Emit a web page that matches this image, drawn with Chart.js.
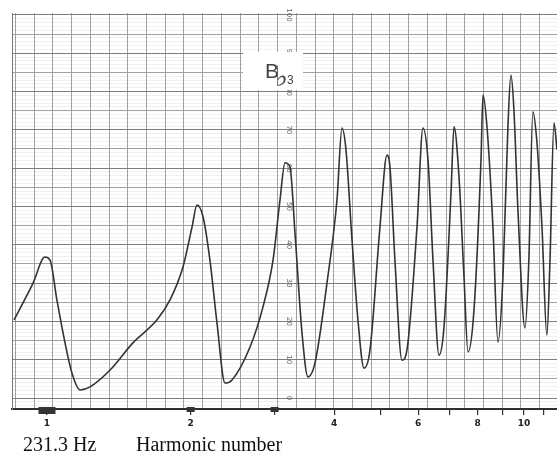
<!DOCTYPE html>
<html>
<head>
<meta charset="utf-8">
<script src="https://cdn.jsdelivr.net/npm/chart.js@4/dist/chart.umd.min.js"></script>
<style>
  html, body { margin: 0; padding: 0; background: #fff; }
  canvas { display: block; }
</style>
</head>
<body>
<canvas id="chart" width="557" height="457"></canvas>
<script>
// harmonic number (log axis) and level in dB
const harmonics = [
  0.853, 0.935, 0.990, 1.015, 1.049, 1.091, 1.128, 1.173, 1.231, 1.356,
  1.514, 1.701, 1.811, 1.928, 2.014, 2.063, 2.124, 2.196, 2.272, 2.362,
  2.443, 2.665, 2.837, 2.978, 3.080, 3.155, 3.232, 3.311, 3.425, 3.525,
  3.646, 3.864, 4.055, 4.154, 4.235, 4.360, 4.487, 4.620, 4.755, 4.990,
  5.162, 5.237, 5.364, 5.549, 5.684, 5.967, 6.142, 6.293, 6.446, 6.636,
  6.798, 7.032, 7.134, 7.309, 7.487, 7.633, 7.857, 8.127, 8.206, 8.366,
  8.610, 8.821, 9.036, 9.256, 9.391, 9.528, 9.714, 10.05, 10.24, 10.44,
  10.65, 10.91, 11.17, 11.34, 11.56, 11.73
];
const levels = [
  20.4, 30.0, 36.8, 36.0, 25.6, 14.4, 6.5, 2.1, 2.9, 7.3,
  14.4, 20.4, 25.6, 34.2, 44.6, 50.4, 47.3, 36.0, 19.6, 3.9,
  4.7, 13.3, 23.8, 36.0, 51.7, 61.4, 60.3, 43.1, 17.0, 5.5,
  9.1, 30.0, 51.7, 70.5, 64.8, 41.3, 20.4, 7.8, 12.5, 44.6,
  63.4, 60.3, 36.0, 9.9, 12.5, 44.6, 70.5, 62.1, 36.0, 11.2,
  18.5, 53.5, 70.8, 57.7, 31.6, 12.0, 23.0, 62.1, 79.1, 70.8,
  44.6, 14.6, 31.6, 70.8, 84.3, 75.2, 49.1, 18.3, 36.0, 74.7,
  66.6, 44.6, 16.4, 36.0, 71.8, 64.8
];

// harmonic ticks on the bottom rule, only some are numbered
const tickValues = [1, 2, 3, 4, 5, 6, 7, 8, 9, 10, 11];
const tickLabels = ["1", "2", "", "4", "", "6", "", "8", "", "10", ""];
// dB figures printed on the paper
const dbLabels = [100, 90, 80, 70, 60, 50, 40, 30, 20, 10, 0];
// harmonics carrying a pen mark on the rule
const markedHarmonics = [1, 2, 3];

const points = harmonics.map((h, i) => ({ x: h, y: levels[i] }));

// writing on the recorder paper: dB figures, note name, marks and captions
const paperText = {
    id: "paperText",
    beforeDatasetsDraw(chart) {
        const ctx = chart.ctx;
        const y = chart.scales.y;
        const xg = chart.scales.xg;
        const lx = xg.getPixelForValue(5.6);

        ctx.save();
        ctx.fillStyle = "#666";
        ctx.font = "7px 'DejaVu Sans'";
        ctx.textAlign = "center";
        ctx.textBaseline = "middle";
        dbLabels.forEach(v => {
            ctx.save();
            ctx.translate(lx, y.getPixelForValue(v));
            ctx.rotate(Math.PI / 2);
            ctx.fillText(String(v), 0, 0);
            ctx.restore();
        });

        // note name in its white box
        ctx.fillStyle = "#fff";
        ctx.fillRect(243, 52, 60, 38);
        ctx.fillStyle = "#444";
        ctx.textAlign = "left";
        ctx.textBaseline = "alphabetic";
        ctx.font = "21px 'Liberation Sans'";
        ctx.fillText("B", 265, 78);
        ctx.font = "28px 'DejaVu Sans', 'Noto Sans'";
        ctx.fillText("\u266D", 275, 86);
        ctx.font = "12px 'Liberation Sans'";
        ctx.fillText("3", 287, 84);
        ctx.restore();
    },
    afterDraw(chart) {
        const ctx = chart.ctx;
        const x = chart.scales.x;
        const bottom = chart.chartArea.bottom;

        ctx.save();
        ctx.fillStyle = "#333";
        markedHarmonics.forEach((h, i) => {
            const w = i === 0 ? 17 : 8;
            ctx.fillRect(x.getPixelForValue(h) - w / 2, bottom - 2, w, i === 0 ? 7 : 5);
        });

        ctx.fillStyle = "#111";
        ctx.font = "20px 'Liberation Serif'";
        ctx.textAlign = "left";
        ctx.textBaseline = "alphabetic";
        ctx.fillText("231.3 Hz", 23, 451);
        ctx.fillText("Harmonic number", 136, 451);
        ctx.restore();
    }
};

const ctx = document.getElementById("chart").getContext("2d");

new Chart(ctx, {
    type: "line",
    data: {
        datasets: [{
            data: points,
            borderColor: "#333",
            borderWidth: 1.6,
            pointRadius: 0,
            fill: false,
            cubicInterpolationMode: "monotone",
            xAxisID: "x",
            yAxisID: "y"
        }]
    },
    options: {
        responsive: false,
        animation: false,
        layout: { padding: { left: 12, top: 13, right: 0, bottom: 0 } },
        plugins: {
            legend: { display: false },
            tooltip: { enabled: false }
        },
        scales: {
            x: {
                type: "logarithmic",
                position: "bottom",
                min: 0.8446,
                max: 11.73,
                afterBuildTicks: axis => { axis.ticks = tickValues.map(v => ({ value: v })); },
                afterFit: axis => { axis.height = 48; },
                grid: { drawOnChartArea: false, drawTicks: true, tickLength: 6, color: "#333", lineWidth: 1.2 },
                border: { display: true, color: "#2e2e2e", width: 2 },
                ticks: {
                    autoSkip: false,
                    maxRotation: 0,
                    padding: 3,
                    color: "#222",
                    font: { family: "'DejaVu Sans'", size: 9, weight: "bold" },
                    callback: value => tickLabels[tickValues.indexOf(value)] ?? ""
                }
            },
            // the paper's own evenly spaced vertical rulings
            xg: {
                type: "linear",
                position: "top",
                min: -9.19,
                max: 19.93,
                afterFit: axis => { axis.height = 0; },
                grid: { color: "#a2a2a2", lineWidth: 1, drawTicks: false },
                border: { display: false },
                ticks: { display: false, stepSize: 1, includeBounds: false }
            },
            y: {
                type: "linear",
                position: "left",
                min: -2.87,
                max: 100.5,
                afterFit: axis => { axis.width = 0; },
                grid: {
                    drawTicks: false,
                    lineWidth: 1,
                    color: c => (c.tick && c.tick.value % 10 === 0) ? "#858585" : "#acacac"
                },
                border: { display: true, color: "#777", width: 1 },
                ticks: { display: false, stepSize: 5, includeBounds: false }
            },
            // faint 1 dB rulings
            yf: {
                type: "linear",
                position: "left",
                min: -2.87,
                max: 100.5,
                afterFit: axis => { axis.width = 0; },
                grid: { drawTicks: false, lineWidth: 1, color: "rgba(0,0,0,0.06)" },
                border: { display: false },
                ticks: { display: false, stepSize: 1, includeBounds: false }
            }
        }
    },
    plugins: [paperText]
});
</script>
</body>
</html>
